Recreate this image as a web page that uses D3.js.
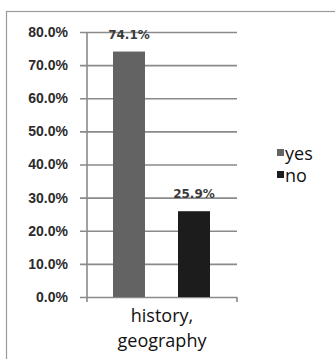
<!DOCTYPE html>
<html>
<head>
<meta charset="utf-8">
<script src="https://cdn.jsdelivr.net/npm/d3@7"></script>
<style>
  body { margin: 0; background: #fff; }
  svg { display: block; }
</style>
</head>
<body>
<script>
// one category, two series (yes / no)
const categories = ["history, geography"];
const series = ["yes", "no"];
const values = [0.741, 0.259];
const valueLabels = ["74.1%", "25.9%"];
const colors = ["#636363", "#1c1c1c"];
const yTicks = [0, 0.1, 0.2, 0.3, 0.4, 0.5, 0.6, 0.7, 0.8];

const W = 335, H = 359;
const plot = {left: 87, right: 237, top: 32, bottom: 297};

const svg = d3.select("body").append("svg")
    .attr("width", W)
    .attr("height", H);

// outer chart frame
svg.append("rect")
    .attr("x", 6.5).attr("y", 11.5)
    .attr("width", 340).attr("height", 360)
    .attr("fill", "none")
    .attr("stroke", "#9a9a9a")
    .attr("stroke-width", 1.2);

const y = d3.scaleLinear().domain([0, 0.8]).range([plot.bottom, plot.top]);
const x0 = d3.scaleBand().domain(categories).range([plot.left, plot.right]);

// gridlines + y ticks
const yAxis = svg.append("g")
    .attr("transform", `translate(${plot.left},0)`)
    .call(d3.axisLeft(y).tickValues(yTicks).tickFormat(d3.format(".1%"))
      .tickSize(-(plot.right - plot.left)).tickPadding(19));
yAxis.select(".domain").remove();
yAxis.selectAll(".tick line")
    .attr("x1", -7)
    .attr("stroke", "#8a8a8a")
    .attr("stroke-width", 1.6);
yAxis.selectAll(".tick text")
    .attr("font-family", "Liberation Sans")
    .attr("font-weight", "bold")
    .attr("font-size", 14)
    .attr("fill", "#2b2b2b");

// vertical axis line + end tick
svg.append("line")
    .attr("x1", plot.left).attr("x2", plot.left)
    .attr("y1", plot.top).attr("y2", plot.bottom + 5)
    .attr("stroke", "#8a8a8a").attr("stroke-width", 1.6);
svg.append("line")
    .attr("x1", plot.right).attr("x2", plot.right)
    .attr("y1", plot.bottom).attr("y2", plot.bottom + 5)
    .attr("stroke", "#8a8a8a").attr("stroke-width", 1.6);

// bars
const g = svg.append("g");
series.forEach((s, i) => {
  const bx = x0(categories[0]) + 26 + i * 65;
  g.append("rect")
      .attr("x", bx)
      .attr("y", y(values[i]))
      .attr("width", 32)
      .attr("height", y(0) - y(values[i]))
      .attr("fill", colors[i]);
  g.append("text")
      .attr("x", bx + 16)
      .attr("y", y(values[i]) - 13)
      .attr("text-anchor", "middle")
      .attr("font-family", "DejaVu Sans")
      .attr("font-weight", "bold")
      .attr("font-size", 12)
      .attr("fill", "#3a3a3a")
      .text(valueLabels[i]);
});

// category label (wrapped)
const cx = x0(categories[0]) + x0.bandwidth() / 2;
const catText = svg.append("text")
    .attr("text-anchor", "middle")
    .attr("font-family", "Open Sans")
    .attr("font-size", 18)
    .attr("fill", "#111");
categories[0].split(" ").forEach((w, i) => {
  catText.append("tspan")
      .attr("x", cx)
      .attr("y", 322 + i * 25)
      .text(w);
});

// legend
const legend = svg.append("g").attr("transform", "translate(277,0)");
series.forEach((s, i) => {
  legend.append("rect")
      .attr("x", 0).attr("y", 149 + i * 22)
      .attr("width", 7).attr("height", 7)
      .attr("fill", colors[i]);
  legend.append("text")
      .attr("x", 8).attr("y", 160 + i * 22)
      .attr("font-family", "Open Sans")
      .attr("font-size", 18)
      .attr("fill", "#111")
      .text(s);
});
</script>
</body>
</html>
